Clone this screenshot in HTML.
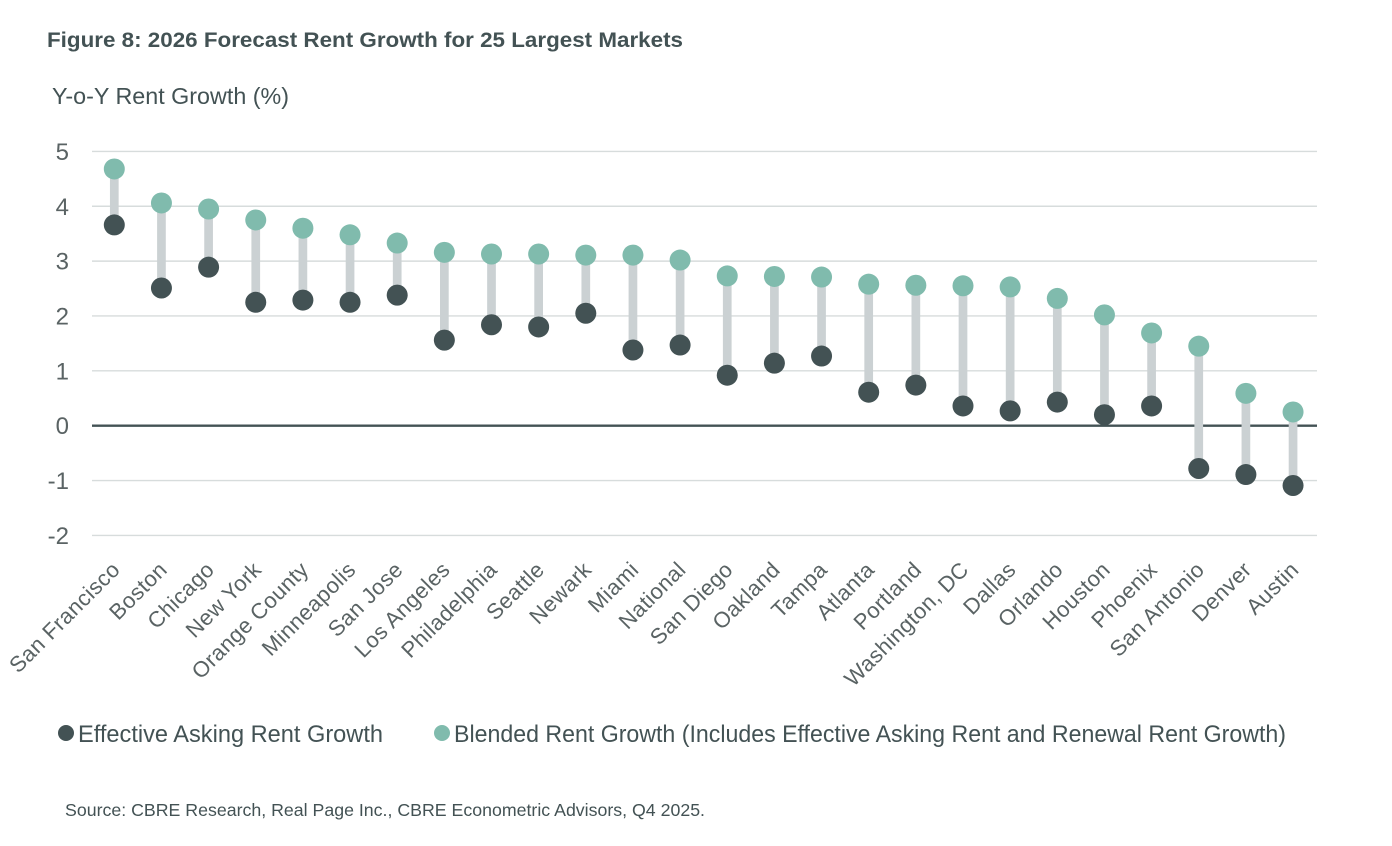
<!DOCTYPE html>
<html>
<head>
<meta charset="utf-8">
<style>
html,body{margin:0;padding:0;background:#fff;width:1392px;height:846px;overflow:hidden}
svg{display:block;font-family:"Liberation Sans",sans-serif}
</style>
</head>
<body>
<svg id="chart" width="1392" height="846" viewBox="0 0 1392 846" xmlns="http://www.w3.org/2000/svg">
<rect width="1392" height="846" fill="#fff"/>
<text x="47" y="47" font-size="21.5" font-weight="700" fill="#435254" textLength="636" lengthAdjust="spacingAndGlyphs">Figure 8: 2026 Forecast Rent Growth for 25 Largest Markets</text>
<text x="52" y="104" font-size="23" fill="#435254" textLength="237" lengthAdjust="spacingAndGlyphs">Y-o-Y Rent Growth (%)</text>
<g id="grid"></g>
<g id="ylabels"></g>
<g id="connectors"></g>
<g id="dots"></g>
<g id="xlabels"></g>
<circle cx="66" cy="733" r="8" fill="#435254"/>
<text x="78" y="742" font-size="24" fill="#435254" textLength="305" lengthAdjust="spacingAndGlyphs">Effective Asking Rent Growth</text>
<circle cx="442" cy="733" r="8" fill="#80bbad"/>
<text x="454" y="742" font-size="24" fill="#435254" textLength="832" lengthAdjust="spacingAndGlyphs">Blended Rent Growth (Includes Effective Asking Rent and Renewal Rent Growth)</text>
<text x="65" y="816" font-size="17.5" fill="#435254" textLength="640" lengthAdjust="spacingAndGlyphs">Source: CBRE Research, Real Page Inc., CBRE Econometric Advisors, Q4 2025.</text>
</svg>
<script>
const categories = ["San Francisco","Boston","Chicago","New York","Orange County","Minneapolis","San Jose","Los Angeles","Philadelphia","Seattle","Newark","Miami","National","San Diego","Oakland","Tampa","Atlanta","Portland","Washington, DC","Dallas","Orlando","Houston","Phoenix","San Antonio","Denver","Austin"];
const effectiveAsking = [3.66,2.51,2.89,2.25,2.29,2.25,2.38,1.56,1.84,1.80,2.05,1.38,1.47,0.92,1.14,1.27,0.61,0.74,0.36,0.27,0.43,0.20,0.36,-0.78,-0.89,-1.09];
const blended = [4.68,4.06,3.95,3.75,3.60,3.48,3.33,3.16,3.13,3.13,3.11,3.11,3.02,2.73,2.72,2.71,2.58,2.56,2.55,2.53,2.32,2.02,1.69,1.45,0.59,0.25];
const yTicks = [5,4,3,2,1,0,-1,-2];

const NS = "http://www.w3.org/2000/svg";
function yScale(v){ return 425.7 - v * 54.86; }
function xScale(i){ return 114.3 + i * 47.15; }
function make(tag, attrs, parent){
  const el = document.createElementNS(NS, tag);
  for (const k in attrs) el.setAttribute(k, attrs[k]);
  parent.appendChild(el);
  return el;
}
const grid = document.getElementById("grid");
const ylabels = document.getElementById("ylabels");
const connectors = document.getElementById("connectors");
const dots = document.getElementById("dots");
const xlabels = document.getElementById("xlabels");

yTicks.forEach(function(t){
  const y = yScale(t);
  const zero = t === 0;
  const line = make("line", {x1:92, x2:1317, y1:y, y2:y, stroke: zero ? "#435254" : "#d7dcdc", "stroke-width": zero ? 2.4 : 1.4}, grid);
  
  
  const label = make("text", {x:69, y:y+8.5, "text-anchor":"end", "font-size":24, fill:"#5a6364"}, ylabels);
  
  
  label.textContent = String(t);
});

categories.forEach(function(c, i){
  const x = xScale(i);
  const conn = make("line", {x1:x, x2:x, y1:yScale(blended[i]), y2:yScale(effectiveAsking[i]), stroke:"#cbd1d3", "stroke-width":8.7}, connectors);
  
  
  const d1 = make("circle", {cx:x, cy:yScale(effectiveAsking[i]), r:10.5, fill:"#435254"}, dots);
  
  
  const d2 = make("circle", {cx:x, cy:yScale(blended[i]), r:10.5, fill:"#80bbad"}, dots);
  
  
  const lx = x + 7, ly = 571;
  const t = make("text", {x:lx, y:ly, "text-anchor":"end", "font-size":22, "letter-spacing":"0.4", fill:"#5a6364", transform:"rotate(-45 "+lx+" "+ly+")"}, xlabels);
  
  
  t.textContent = c;
});
</script>
</body>
</html>
